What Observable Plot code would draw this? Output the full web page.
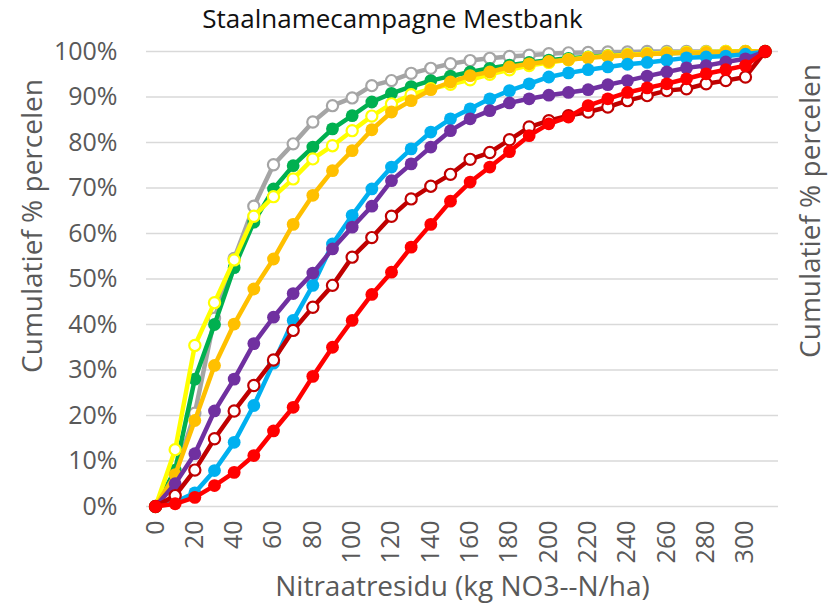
<!DOCTYPE html>
<html>
<head>
<meta charset="utf-8">
<script src="https://cdn.jsdelivr.net/npm/d3@7"></script>
<script src="https://cdn.jsdelivr.net/npm/@observablehq/plot@0.6"></script>
<style>
  html, body { margin: 0; padding: 0; background: #ffffff; }
  #chart svg { display: block; }
</style>
</head>
<body>
<div id="chart"></div>
<script>
// Nitrate residue classes (kg NO3--N/ha)
const xValues = [0,10,20,30,40,50,60,70,80,90,100,110,120,130,140,150,160,170,180,190,200,210,220,230,240,250,260,270,280,290,300,310];
const xTicks = [0,20,40,60,80,100,120,140,160,180,200,220,240,260,280,300];
const yTicks = [0,10,20,30,40,50,60,70,80,90,100];

// cumulative % of parcels per series
const seriesGrey   = [0,7,20.5,41.4,54.5,66,75.1,79.7,84.5,88.1,89.8,92.5,93.6,95.2,96.3,97.3,98,98.5,98.9,99.2,99.5,99.7,99.8,99.9,99.9,100,100,100,100,100,100,100];
const seriesGreen  = [0,8,28,40,52.5,62.5,69.8,74.9,79,83,85.9,88.9,90.8,92.3,93.6,94.6,95.5,96.3,97,97.6,98.1,98.5,98.8,99.1,99.3,99.5,99.6,99.7,99.8,99.9,100,100];
const seriesYellow = [0,12.5,35.4,44.8,54.2,63.8,68.1,72,76.4,79.3,82.6,85.8,88.5,90.5,91.8,92.8,93.8,95,96,96.9,97.6,98.2,98.7,99,99.3,99.5,99.7,99.8,99.9,100,100,100];
const seriesOrange = [0,7,18.9,31,40.1,47.8,54.4,62,68.4,73.8,78.2,82.8,86.7,89.2,91.6,93.3,94.7,95.5,96.6,97.3,97.8,98.2,98.6,98.9,99.2,99.4,99.6,99.7,99.8,99.9,100,100];
const seriesBlue   = [0,1,3,7.9,14.1,22.2,31.5,40.9,48.6,57.7,64,69.8,74.6,78.6,82.3,85.2,87.4,89.6,91.4,92.9,94.4,95.3,96,96.6,97.2,97.6,98.1,98.6,98.8,99,99.4,100];
const seriesPurple = [0,5,11.6,21,28,35.8,41.6,46.8,51.3,56.6,61.4,66,71.6,75.3,79,82.6,85.2,87,88.7,89.6,90.4,91,91.6,92.7,93.6,94.6,95.5,96.4,96.9,97.7,98.4,100];
const seriesDarkRed= [0,2.4,8,14.9,21,26.6,32.2,38.7,43.8,48.6,54.8,59.1,63.8,67.6,70.4,73,76.3,77.8,80.6,83.4,84.8,85.9,86.7,87.8,89.2,90.3,91.4,91.8,92.9,93.6,94.4,100];
const seriesRed    = [0,0.6,2,4.6,7.5,11.2,16.6,21.8,28.6,35,40.9,46.6,51.5,57,62,67.1,71.3,74.6,78,81.5,84.1,85.6,88.1,89.6,91,92,92.9,94,95.1,96,96.9,100];

const seriesNames  = ["grijs","groen","geel","oranje","blauw","paars","donkerrood","rood"];
const seriesValues = [seriesGrey, seriesGreen, seriesYellow, seriesOrange, seriesBlue, seriesPurple, seriesDarkRed, seriesRed];
const seriesColors = ["#A5A5A5","#00B050","#FFFF00","#FFC000","#00B0F0","#7030A0","#C00000","#FF0000"];
const seriesHollow = [true,false,true,false,false,false,true,false];

const titleText = "Staalnamecampagne Mestbank";
const xLabel = "Nitraatresidu (kg NO3--N/ha)";
const yLabel = "Cumulatief % percelen";

const seriesMarks = seriesNames.flatMap((name, s) => {
  const rows = xValues.map((x, i) => ({series: name, x, y: seriesValues[s][i]}));
  const c = seriesColors[s];
  return [
    Plot.line(rows, {x: "x", y: "y", stroke: c, strokeWidth: 4.5, strokeLinejoin: "round"}),
    Plot.dot(rows, {x: "x", y: "y", r: seriesHollow[s] ? 5.6 : 6.4,
      fill: seriesHollow[s] ? "#ffffff" : c,
      stroke: seriesHollow[s] ? c : "none",
      strokeWidth: seriesHollow[s] ? 2.2 : 0})
  ];
});

const chart = Plot.plot({
  width: 828,
  height: 608,
  marginLeft: 146,
  marginRight: 50,
  marginTop: 51,
  marginBottom: 102,
  style: {fontFamily: "'Open Sans', sans-serif", fontSize: "25px", color: "#595959", background: "#ffffff"},
  x: {domain: [-4.58, 316.8], axis: null},
  y: {domain: [0, 100], axis: null},
  marks: [
    Plot.gridY(yTicks, {stroke: "#D9D9D9", strokeOpacity: 1, strokeWidth: 1.5}),
    Plot.axisY(yTicks, {label: null, tickSize: 0, tickPadding: 29, tickFormat: d => `${d}%`, fontSize: 25, fill: "#595959"}),
    Plot.axisX(xTicks, {label: null, tickSize: 0, tickRotate: -90, tickPadding: 14, textAnchor: "end", lineAnchor: "middle", fontSize: 25, fill: "#595959"}),
    ...seriesMarks,
    Plot.text([titleText], {frameAnchor: "top", dx: -70, dy: -24, lineAnchor: "bottom", fontSize: 26, fill: "#111111"}),
    Plot.text([xLabel], {frameAnchor: "bottom", dy: 89, lineAnchor: "bottom", fontSize: 28, fill: "#595959"}),
    Plot.text([yLabel], {frameAnchor: "left", dx: -113, dy: -53, rotate: -90, textAnchor: "middle", lineAnchor: "middle", fontSize: 28, fill: "#595959"}),
    Plot.text([yLabel], {frameAnchor: "right", dx: 33, dy: -68, rotate: -90, textAnchor: "middle", lineAnchor: "middle", fontSize: 28, fill: "#595959"})
  ]
});
document.getElementById("chart").appendChild(chart);
</script>
</body>
</html>
